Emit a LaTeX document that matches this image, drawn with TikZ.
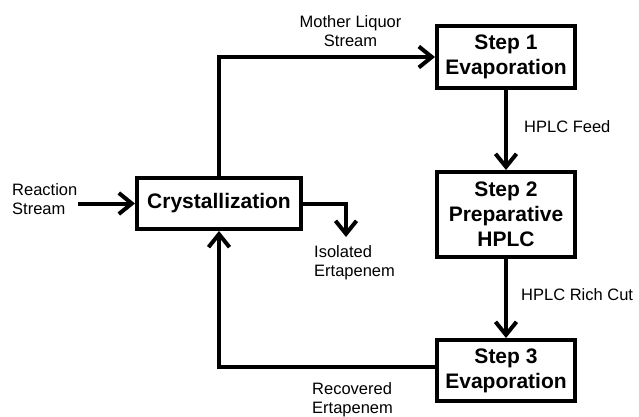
\documentclass[tikz,border=0pt]{standalone}
\usepackage{fontspec}
\setmainfont{Liberation Sans}
\usetikzlibrary{arrows.meta}
\begin{document}
\begin{tikzpicture}[x=1pt,y=-1pt,
  procbox/.style={draw=black, line width=4pt, inner sep=0pt, align=center,
    font=\fontsize{21}{25}\selectfont\bfseries},
  lbl/.style={inner sep=0pt, font=\fontsize{16.5}{19}\selectfont},
  flow/.style={line width=4pt, -{Straight Barb[length=13pt,width=21pt]}}
]
\useasboundingbox (0,0) rectangle (639,416);
\fill[white] (0,0) rectangle (639,416);

\node[procbox, minimum width=164pt, minimum height=51pt] (crys) at (219,203.5) {Crystallization};
\node[procbox, minimum width=138pt, minimum height=62pt] (step1) at (506,57) {Step 1\\Evaporation};
\node[procbox, minimum width=138pt, minimum height=85pt] (step2) at (506,214.5) {Step 2\\Preparative\\HPLC};
\node[procbox, minimum width=138pt, minimum height=61pt] (step3) at (506,370.5) {Step 3\\Evaporation};

\node[lbl, align=center] (ml) at (350.5,31) {Mother Liquor\\Stream};
\node[lbl, anchor=west] (hf) at (524,127) {HPLC Feed};
\node[lbl, anchor=west] (hrc) at (521,295) {HPLC Rich Cut};
\node[lbl, anchor=west, align=left] (rs) at (12,199) {Reaction\\Stream};
\node[lbl, anchor=west, align=left] (iso) at (314,263) {Isolated\\Ertapenem};
\node[lbl, anchor=west, align=left] (rec) at (312,400) {Recovered\\Ertapenem};

\coordinate (rsstart) at (78,203.5);
\coordinate (isoend) at (346,237);

\draw[flow] (rsstart) -- (crys.west);
\draw[flow] (crys.north) |- (step1.west);
\draw[flow] (crys.east) -| (isoend);
\draw[flow] (step1.south) -- (step2.north);
\draw[flow] (step2.south) -- (step3.north);
\draw[flow] ([yshift=3.5pt]step3.west) -| (crys.south);
\end{tikzpicture}
\end{document}
